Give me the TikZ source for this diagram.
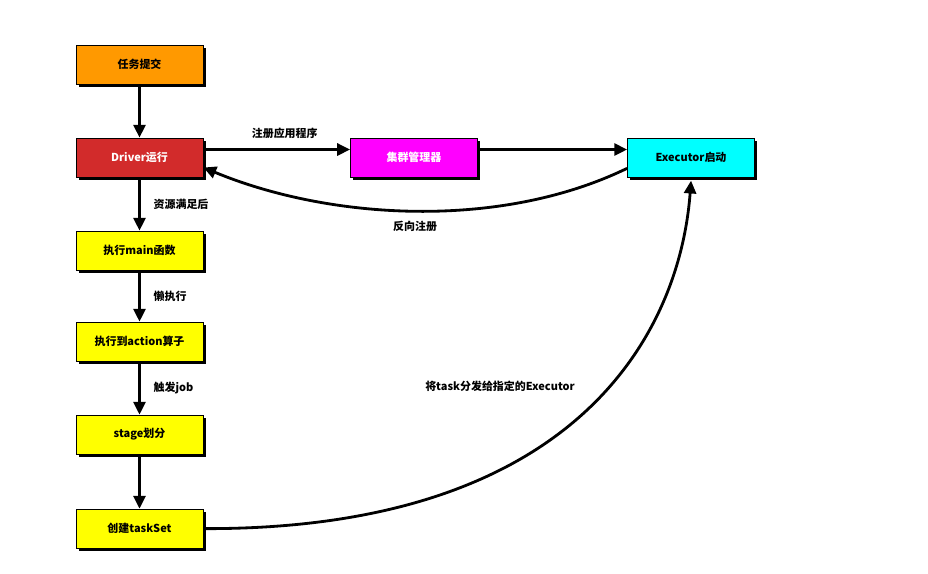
\documentclass[tikz,border=0pt]{standalone}
\usepackage{fontspec}
\setmainfont{Noto Sans CJK SC}
\usetikzlibrary{positioning,shadows,arrows.meta}
\definecolor{taskorange}{HTML}{FF9900}
\definecolor{driverred}{HTML}{D22B2B}
\definecolor{clustermag}{HTML}{FF00FF}
\definecolor{execcyan}{HTML}{00FFFF}
\definecolor{stepyellow}{HTML}{FFFF00}
\begin{document}
\begin{tikzpicture}[node distance={23.25mm}, x=0.025cm, y=-0.025cm,
  box/.style = {draw, line width=0.6pt, minimum width=3.175cm, minimum height=0.975cm, inner sep=0pt,
    font=\fontsize{7.8}{9}\selectfont\bfseries,
    drop shadow={shadow xshift=0.07cm, shadow yshift=-0.07cm, fill=black, opacity=1}},
  flow/.style = {line width=2pt, -{Triangle[length=3.2mm,width=3mm]}},
  lbl/.style = {font=\fontsize{7.8}{9}\selectfont\bfseries}]
      \useasboundingbox (0,0) rectangle (928,573);
      \node[box, fill=taskorange] (submit) at (139.5,64.5) {任务提交};
      \node[box, fill=driverred, text=white] (driver) [below of=submit] {Driver运行};
      \node[box, fill=clustermag, text=white] (cluster) [right of=driver, node distance=68.6mm] {集群管理器};
      \node[box, fill=execcyan] (exec) [right of=cluster, node distance=69.25mm] {Executor启动};
      \node[box, fill=stepyellow] (main) [below of=driver] {执行main函数};
      \node[box, fill=stepyellow] (action) [below of=main, node distance=22.75mm] {执行到action算子};
      \node[box, fill=stepyellow] (stage) [below of=action] {stage划分};
      \node[box, fill=stepyellow] (taskset) [below of=stage, node distance=23.5mm] {创建taskSet};
      \node[lbl] (dispatch) at (500,386) {将task分发给指定的Executor};

      \draw[flow] (submit) to (driver);
      \draw[flow] (driver) to node[lbl, midway, right, xshift=2mm] {资源满足后} (main);
      \draw[flow] (main) to node[lbl, midway, right, xshift=2mm] {懒执行} (action);
      \draw[flow] (action) to node[lbl, midway, right, xshift=2mm] {触发job} (stage);
      \draw[flow] (stage) to (taskset);
      \draw[flow] ([yshift=0.2cm]driver.east) to node[lbl, above, xshift=2mm, yshift=1.2mm] {注册应用程序} ([yshift=0.2cm]cluster.west);
      \draw[flow] ([yshift=0.2cm]cluster.east) to ([yshift=0.2cm]exec.west);
      \draw[flow] ([yshift=-0.27cm]exec.west) .. controls (500,230) and (330,220) .. ([yshift=-0.25cm]driver.east)
        node[lbl, pos=0.5, below, yshift=-1mm] {反向注册};
      \draw[flow] (taskset.east) .. controls (580,530) and (680,330) .. ([yshift=-0.08cm]exec.south);
\end{tikzpicture}
\end{document}
